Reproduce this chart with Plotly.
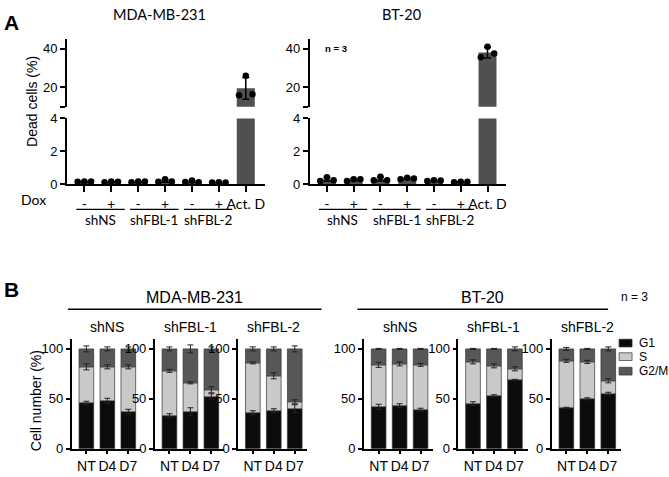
import numpy as np
import plotly.graph_objects as go

W, H = 669, 477

# ---------------- Panel A data ----------------
a_ticktext = ["-", "+", "-", "+", "-", "+", "Act. D"]
a_groups = ["shNS", "shFBL-1", "shFBL-2"]
mda_dead = [[0.15, 0.17, 0.16], [0.12, 0.16, 0.15], [0.12, 0.17, 0.16],
            [0.15, 0.30, 0.17], [0.13, 0.22, 0.12], [0.10, 0.12, 0.11],
            [16.0, 26.0, 16.5]]
bt_dead = [[0.20, 0.42, 0.25], [0.20, 0.30, 0.30], [0.25, 0.45, 0.25],
           [0.30, 0.40, 0.35], [0.20, 0.25, 0.22], [0.12, 0.15, 0.15],
           [35.5, 41.0, 37.5]]

# ---------------- Panel B data ----------------
b_days = ["NT", "D4", "D7"]
b_lines = ["shNS", "shFBL-1", "shFBL-2"]
phases = ["G1", "S", "G2/M"]
mda_g1 = [[46, 48, 37], [33, 37, 52], [36, 38, 40]]
mda_s = [[36, 34, 45], [45, 29, 7], [50, 35, 7]]
mda_g2m = [[18, 18, 18], [22, 34, 41], [14, 27, 53]]
mda_g1_err = [[1.5, 2.5, 2.5], [2, 4, 3], [2, 2, 4]]
mda_s_err = [[3, 2, 2], [1.5, 1, 3], [1, 3, 2]]
mda_g2m_err = [[3, 2, 2], [2, 4, 2], [2, 2, 3]]
bt_g1 = [[42, 43, 39], [45, 53, 69], [41, 50, 55]]
bt_s = [[42, 42, 45], [42, 30, 11], [47, 37, 13]]
bt_g2m = [[16, 15, 16], [13, 17, 20], [12, 13, 32]]
bt_g1_err = [[2.5, 2, 1.5], [2, 1, 0.5], [0.5, 1, 1.5]]
bt_s_err = [[2.5, 2, 1.5], [2, 2, 2], [1.5, 1.5, 2]]
bt_g2m_err = [[0.5, 0.5, 0.5], [0.5, 0.5, 2], [1.5, 0.5, 2]]

phase_colors = ["#0b0b0b", "#c9c9c9", "#575757"]
BAR_A = "#505050"
ARIAL = "Liberation Sans"
CAL = "Lato"


def px(x):
    return x / W


def py(y):
    return 1 - y / H


fig = go.Figure()
layout = {}
annotations = []
shapes = []


def ax(i):
    return "" if i == 1 else str(i)


axis_common = dict(showline=True, linecolor="black", linewidth=1.6, ticks="outside",
                   tickcolor="black", tickwidth=1.6, showgrid=False, zeroline=False,
                   fixedrange=True)

# ---------------- Panel A ----------------
a_panels = [("MDA-MB-231", mda_dead, 67, 265), ("BT-20", bt_dead, 310, 507)]
xr_a = [-0.65, 6.7]
offsets = [-0.25, 0.0, 0.25]
for p, (title, data, x0, x1) in enumerate(a_panels):
    lo, up = 1 + 2 * p, 2 + 2 * p
    means = [float(np.mean(v)) for v in data]
    sds = [float(np.std(v, ddof=1)) for v in data]
    xs = list(range(len(data)))
    dx = [i + o for i, v in enumerate(data) for o, _ in zip(offsets, v)]
    dy = [val for v in data for val in v]
    for k in (lo, up):
        fig.add_trace(go.Bar(x=xs, y=means, width=0.67, marker=dict(color=BAR_A, line=dict(width=0)),
                             error_y=dict(type="data", array=sds, color="black", thickness=1.5, width=3.5),
                             xaxis="x" + ax(k), yaxis="y" + ax(k), showlegend=False, hoverinfo="skip"))
        fig.add_trace(go.Scatter(x=dx, y=dy, mode="markers",
                                 marker=dict(color="black", size=6.5),
                                 xaxis="x" + ax(k), yaxis="y" + ax(k), showlegend=False,
                                 hoverinfo="skip"))
    layout["xaxis" + ax(lo)] = dict(axis_common, domain=[px(x0), px(x1)], range=xr_a,
                                    anchor="y" + ax(lo), tickvals=xs, ticktext=a_ticktext,
                                    ticklen=6, tickfont=dict(family=CAL, size=14, color="black"))
    layout["yaxis" + ax(lo)] = dict(axis_common, domain=[py(183), py(115)], range=[0, 4],
                                    anchor="x" + ax(lo), tickvals=[0, 2, 4], ticklen=5,
                                    tickfont=dict(family=ARIAL, size=13, color="black"))
    layout["xaxis" + ax(up)] = dict(domain=[px(x0), px(x1)], range=xr_a, anchor="y" + ax(up),
                                    visible=False, fixedrange=True)
    layout["yaxis" + ax(up)] = dict(axis_common, domain=[py(103), py(33)], range=[10, 45],
                                    anchor="x" + ax(up), tickvals=[10, 20, 40],
                                    ticktext=["", "20", "40"], ticklen=5,
                                    tickfont=dict(family=ARIAL, size=13, color="black"))
    # group lines and labels
    for g, name in enumerate(a_groups):
        shapes.append(dict(type="line", xref="x" + ax(lo), yref="paper",
                           x0=2 * g - 0.3, x1=2 * g + 1.5, y0=py(209), y1=py(209),
                           line=dict(color="black", width=1.2)))
        annotations.append(dict(text=name, xref="x" + ax(lo), yref="paper", x=2 * g + 0.6, y=py(220),
                                showarrow=False, xanchor="center", yanchor="middle",
                                font=dict(family=CAL, size=13.5, color="black")))
    annotations.append(dict(text=title, xref="paper", yref="paper", x=px((x0 + x1) / 2 - 6), y=py(8),
                            showarrow=False, xanchor="center", yanchor="middle",
                            font=dict(family=CAL, size=14.5, color="black")))

annotations.append(dict(text="<b>A</b>", xref="paper", yref="paper", x=px(2), y=py(16),
                        showarrow=False, xanchor="left", yanchor="middle",
                        font=dict(family=ARIAL, size=21, color="black")))
annotations.append(dict(text="Dox", xref="paper", yref="paper", x=px(34), y=py(199),
                        showarrow=False, xanchor="center", yanchor="middle",
                        font=dict(family=CAL, size=14, color="black")))
annotations.append(dict(text="Dead cells (%)", xref="paper", yref="paper", x=px(32), y=py(97),
                        showarrow=False, xanchor="center", yanchor="middle", textangle=-90,
                        font=dict(family=ARIAL, size=14, color="black")))
annotations.append(dict(text="<b>n = 3</b>", xref="paper", yref="paper", x=px(323), y=py(43),
                        showarrow=False, xanchor="left", yanchor="middle",
                        font=dict(family=ARIAL, size=9.5, color="black")))

# ---------------- Panel B ----------------
b_sets = [("MDA-MB-231", [mda_g1, mda_s, mda_g2m], [mda_g1_err, mda_s_err, mda_g2m_err],
           [71.8, 155.0, 238.5], (68, 322)),
          ("BT-20", [bt_g1, bt_s, bt_g2m], [bt_g1_err, bt_s_err, bt_g2m_err],
           [364.5, 459.0, 552.5], (358, 609))]
BW = 69.3
xr_b = [-0.7, 2.6]
for c, (cname, vals, errs, lefts, (l0, l1)) in enumerate(b_sets):
    for k, sh in enumerate(b_lines):
        idx = 5 + 3 * c + k
        cum = np.zeros(3)
        for ph in range(3):
            v = np.array(vals[ph][k], dtype=float)
            fig.add_trace(go.Bar(x=b_days, y=v, base=cum.copy(), width=0.7, name=phases[ph],
                                 marker=dict(color=phase_colors[ph], line=dict(color="#333333", width=0.7)),
                                 xaxis="x" + ax(idx), yaxis="y" + ax(idx), showlegend=False,
                                 hoverinfo="skip"))
            cum = cum + v
            fig.add_trace(go.Scatter(x=b_days, y=cum.copy(), mode="markers",
                                     marker=dict(size=1, color="rgba(0,0,0,0)"),
                                     error_y=dict(type="data", array=errs[ph][k], color="#222222",
                                                  thickness=1, width=3),
                                     xaxis="x" + ax(idx), yaxis="y" + ax(idx), showlegend=False,
                                     hoverinfo="skip"))
        left = lefts[k]
        layout["xaxis" + ax(idx)] = dict(axis_common, domain=[px(left), px(left + BW)], range=xr_b,
                                         type="category", anchor="y" + ax(idx), ticklen=4,
                                         tickfont=dict(family=ARIAL, size=14, color="black"))
        layout["yaxis" + ax(idx)] = dict(axis_common, domain=[py(456), py(342.7)], range=[0, 110],
                                         anchor="x" + ax(idx), tickvals=[0, 50, 100], ticklen=4,
                                         tickfont=dict(family=ARIAL, size=13, color="black"))
        annotations.append(dict(text=sh, xref="paper", yref="paper", x=px(left + 35.7), y=py(330),
                                showarrow=False, xanchor="center", yanchor="middle",
                                font=dict(family=ARIAL, size=14, color="black")))
    shapes.append(dict(type="line", xref="paper", yref="paper", x0=px(l0), x1=px(l1),
                       y0=py(312), y1=py(312), line=dict(color="black", width=1.5)))
    annotations.append(dict(text=cname, xref="paper", yref="paper", x=px((l0 + l1) / 2), y=py(300),
                            showarrow=False, xanchor="center", yanchor="middle",
                            font=dict(family=ARIAL, size=16, color="black")))

annotations.append(dict(text="<b>B</b>", xref="paper", yref="paper", x=px(2), y=py(292),
                        showarrow=False, xanchor="left", yanchor="middle",
                        font=dict(family=ARIAL, size=21, color="black")))
annotations.append(dict(text="Cell number (%)", xref="paper", yref="paper", x=px(36), y=py(406),
                        showarrow=False, xanchor="center", yanchor="middle", textangle=-90,
                        font=dict(family=ARIAL, size=14, color="black")))
annotations.append(dict(text="n = 3", xref="paper", yref="paper", x=px(620), y=py(299),
                        showarrow=False, xanchor="left", yanchor="middle",
                        font=dict(family=ARIAL, size=12, color="black")))

# legend (manual)
leg_y = [347, 361, 376]
for ph in range(3):
    shapes.append(dict(type="rect", xref="paper", yref="paper", x0=px(620), x1=px(633),
                       y0=py(leg_y[ph] + 4), y1=py(leg_y[ph] - 4),
                       fillcolor=phase_colors[ph], line=dict(color="#333333", width=0.7)))
    annotations.append(dict(text=phases[ph], xref="paper", yref="paper", x=px(638), y=py(leg_y[ph]),
                            showarrow=False, xanchor="left", yanchor="middle",
                            font=dict(family=ARIAL, size=12, color="black")))

fig.update_layout(width=W, height=H, autosize=False, margin=dict(l=0, r=0, t=0, b=0),
                  paper_bgcolor="white", plot_bgcolor="white", barmode="overlay",
                  showlegend=False, annotations=annotations, shapes=shapes, **layout)

fig.write_html("out.html", config={"displayModeBar": False})
